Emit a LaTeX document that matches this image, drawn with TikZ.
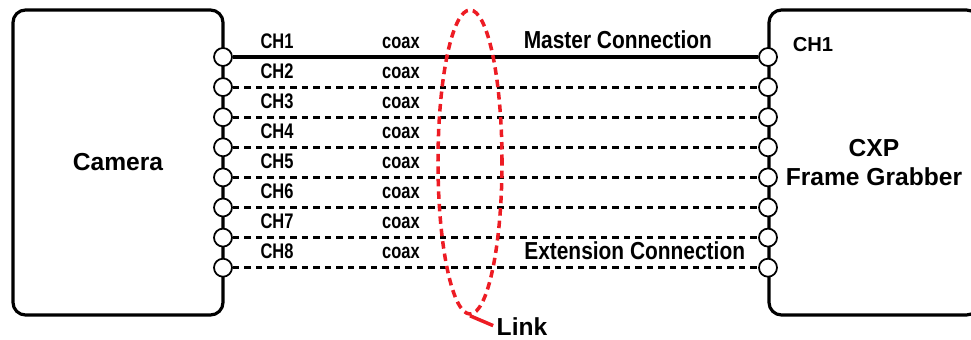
\documentclass[tikz,border=0pt]{standalone}
\usepackage{fontspec}
\setmainfont{Liberation Sans}
\newfontfamily\narrowfont[FakeStretch=0.85]{Liberation Sans}
\newfontfamily\slimfont[FakeStretch=0.78]{Liberation Sans}
\usepackage{tikz}
\usetikzlibrary{positioning}
\usetikzlibrary{shapes.geometric}

\definecolor{linkred}{RGB}{237,28,36}

\begin{document}
\begin{tikzpicture}[node distance=0.602cm, on grid, inner sep=0pt,
  box/.style={draw, line width=1.8pt, rounded corners=0.25cm, minimum width=4.2cm, minimum height=6.1cm, align=center, font=\fontsize{14}{17}\selectfont\bfseries},
  port/.style={circle, draw, fill=white, line width=1pt, minimum size=0.36cm},
  master/.style={line width=1.9pt},
  coaxline/.style={line width=1.7pt, dash pattern=on 0.13cm off 0.1cm},
  chlab/.style={above=4pt, font=\slimfont\fontsize{12}{14}\selectfont\bfseries},
  connlab/.style={above=4pt, font=\narrowfont\fontsize{14}{17}\selectfont\bfseries},
  linkring/.style={ellipse, draw=linkred, line width=2pt, dash pattern=on 0.15cm off 0.1cm, minimum width=1.28cm, minimum height=6.08cm}]

\clip [use as bounding box] (0,0) rectangle (19.42,6.78);

\node [box] (cam) at (2.36,3.53) {Camera};
\node [box] (fg) at (17.48,3.53) {CXP\\Frame Grabber};

% camera side
\node [port] (c1) at (4.46,5.64) {};
\node [port] (c2) [below=of c1] {};
\node [port] (c3) [below=of c2] {};
\node [port] (c4) [below=of c3] {};
\node [port] (c5) [below=of c4] {};
\node [port] (c6) [below=of c5] {};
\node [port] (c7) [below=of c6] {};
\node [port] (c8) [below=of c7] {};

% grabber side
\node [port] (g1) [right=10.9cm of c1] {};
\node [port] (g2) [below=of g1] {};
\node [port] (g3) [below=of g2] {};
\node [port] (g4) [below=of g3] {};
\node [port] (g5) [below=of g4] {};
\node [port] (g6) [below=of g5] {};
\node [port] (g7) [below=of g6] {};
\node [port] (g8) [below=of g7] {};

\node [font=\fontsize{11.5}{13}\selectfont\bfseries] (gch1) [above right=0.24cm and 0.9cm of g1] {CH1};

\path
  (c1) edge [master] node [chlab, pos=0.084] {CH1} node [chlab, pos=0.32] {coax}
                     node [connlab, pos=0.733] {Master Connection} (g1)
  (c2) edge [coaxline] node [chlab, pos=0.084] {CH2} node [chlab, pos=0.32] {coax} (g2)
  (c3) edge [coaxline] node [chlab, pos=0.084] {CH3} node [chlab, pos=0.32] {coax} (g3)
  (c4) edge [coaxline] node [chlab, pos=0.084] {CH4} node [chlab, pos=0.32] {coax} (g4)
  (c5) edge [coaxline] node [chlab, pos=0.084] {CH5} node [chlab, pos=0.32] {coax} (g5)
  (c6) edge [coaxline] node [chlab, pos=0.084] {CH6} node [chlab, pos=0.32] {coax} (g6)
  (c7) edge [coaxline] node [chlab, pos=0.084] {CH7} node [chlab, pos=0.32] {coax} (g7)
  (c8) edge [coaxline] node [chlab, pos=0.084] {CH8} node [chlab, pos=0.32] {coax}
                       node [connlab, above=3.5pt, pos=0.765] {Extension Connection} (g8)
  ;

% link ring
\node [linkring] (ring) at (9.4,3.54) {};
\node [font=\fontsize{14}{17}\selectfont\bfseries] (lnk) at (10.44,0.24) {Link};
\draw [linkred, line width=2pt, shorten >=2pt] (ring.south) -- (lnk.west);

\end{tikzpicture}
\end{document}
